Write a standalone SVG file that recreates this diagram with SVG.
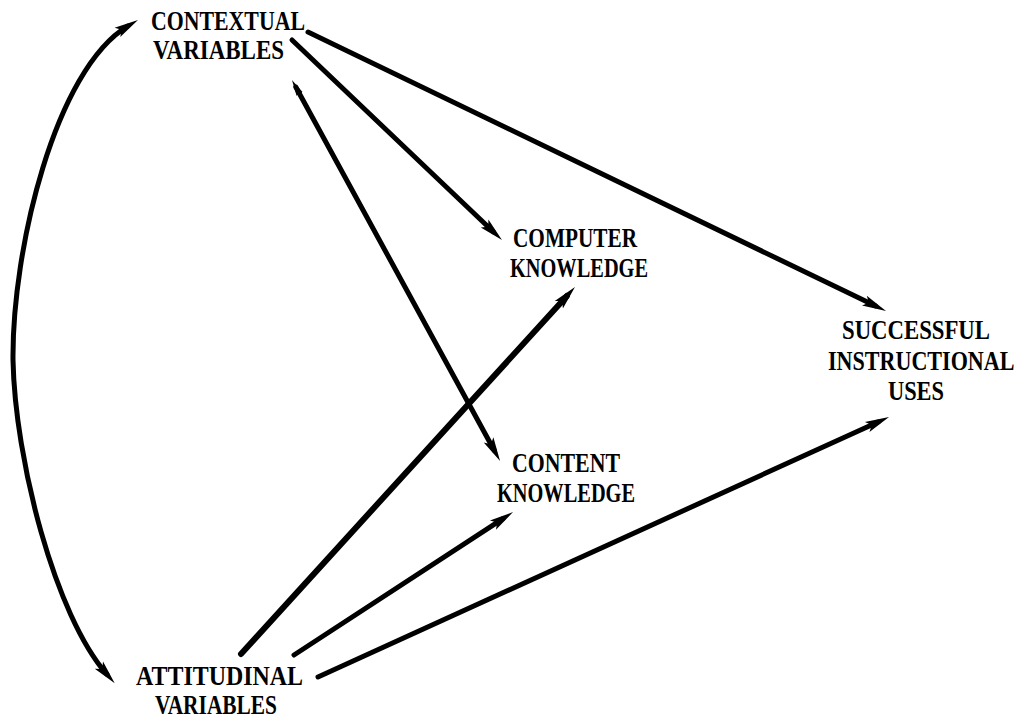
<svg xmlns="http://www.w3.org/2000/svg" width="1033" height="723" viewBox="0 0 1033 723">
<style>
text{font-family:"Liberation Serif","Times New Roman",serif;font-weight:bold;font-size:27px;fill:#000;}
.c{fill:none;stroke:#000;stroke-width:5;stroke-linecap:round;}
</style>
<defs>
<marker id="ah" markerUnits="userSpaceOnUse" viewBox="0 -7 26 14" markerWidth="26" markerHeight="14" refX="12" refY="0" orient="auto-start-reverse">
<path d="M0,-5.5 L24,0 L0,5.5 L5,0 z" fill="#000"/>
</marker>
<marker id="ahs" markerUnits="userSpaceOnUse" viewBox="0 -5 18 10" markerWidth="18" markerHeight="10" refX="8" refY="0" orient="auto-start-reverse">
<path d="M0,-3.5 L16,0 L0,3.5 z" fill="#000"/>
</marker>
</defs>
<rect width="1033" height="723" fill="#fff"/>
<g id="connectors">
<path class="c" d="M127.7,26.2 C55,70 12,250 13,360 C15,460 55,615 106.8,674.2" marker-start="url(#ah)" marker-end="url(#ah)"/>
<path class="c" d="M292,40 L493.3,231.7" marker-end="url(#ah)"/>
<path class="c" d="M308,32 L875.2,305.8" marker-end="url(#ah)"/>
<path class="c" d="M295.8,87 L494.3,450.5" marker-start="url(#ahs)" marker-end="url(#ah)"/>
<path class="c" d="M241,654 L566.9,295.9" marker-end="url(#ah)" style="stroke-width:6"/>
<path class="c" d="M294,655 L503,518.6" marker-end="url(#ah)"/>
<path class="c" d="M318,677 L878.1,422" marker-end="url(#ah)"/>
</g>
<g id="contextual">
<text x="151" y="30" textLength="154" lengthAdjust="spacingAndGlyphs">CONTEXTUAL</text>
<text x="153" y="59" textLength="131" lengthAdjust="spacingAndGlyphs">VARIABLES</text>
</g>
<g id="computer">
<text x="513" y="247" textLength="124" lengthAdjust="spacingAndGlyphs">COMPUTER</text>
<text x="510" y="277" textLength="138" lengthAdjust="spacingAndGlyphs">KNOWLEDGE</text>
</g>
<g id="successful">
<text x="842" y="339" textLength="148" lengthAdjust="spacingAndGlyphs">SUCCESSFUL</text>
<text transform="translate(828,370) scale(0.818,1)" x="0" y="0">INSTRUCTIONAL</text>
<text x="888" y="400" textLength="56" lengthAdjust="spacingAndGlyphs">USES</text>
</g>
<g id="content">
<text x="512" y="472" textLength="108" lengthAdjust="spacingAndGlyphs">CONTENT</text>
<text x="497" y="502" textLength="138" lengthAdjust="spacingAndGlyphs">KNOWLEDGE</text>
</g>
<g id="attitudinal">
<text x="136" y="685" textLength="167" lengthAdjust="spacingAndGlyphs">ATTITUDINAL</text>
<text x="155" y="714" textLength="122" lengthAdjust="spacingAndGlyphs">VARIABLES</text>
</g>
</svg>
